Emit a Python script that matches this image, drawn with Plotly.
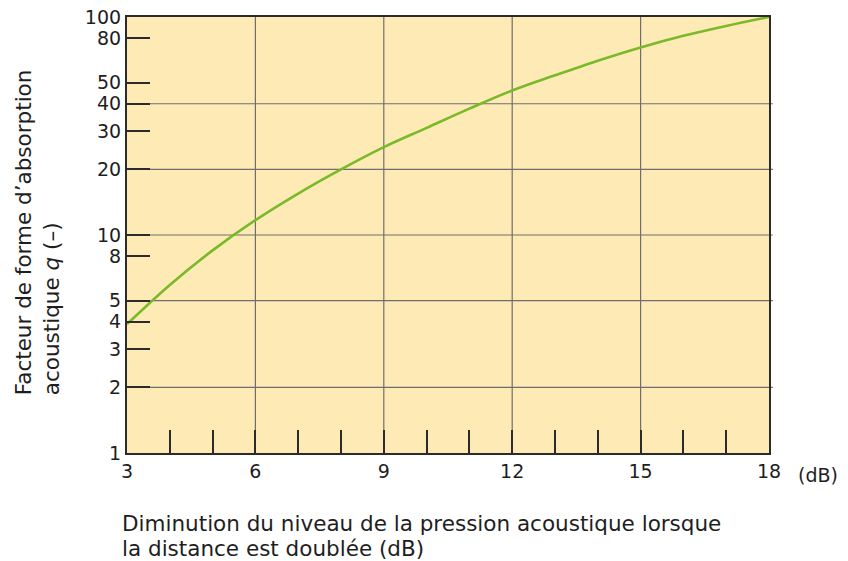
import plotly.graph_objects as go

# Data
x_db = [3, 4, 5, 6, 7, 8, 9, 10, 11, 12, 13, 14, 15, 16, 17, 18]
q_vals = [3.9, 5.9, 8.5, 11.7, 15.5, 20, 25.3, 31, 38, 46, 54, 63, 72.5, 82, 91, 100]

x_ticks = list(range(3, 19))
x_ticklabels = [str(v) if v % 3 == 0 else "" for v in x_ticks]
y_ticks = [1, 2, 3, 4, 5, 8, 10, 20, 30, 40, 50, 80, 100]
y_ticklabels = [str(v) for v in y_ticks]
x_grid = [6, 9, 12, 15]
y_grid = [2, 5, 10, 20, 40]

FONT = "DejaVu Sans"
BG = "#fdeab5"
GRID = "#6e6e6e"
AXIS = "#2b2b2b"
TXT = "#1e1e1e"
TICK_SIZE = 19
TITLE_SIZE = 21.5

fig = go.Figure()
fig.add_trace(go.Scatter(
    x=x_db, y=q_vals, mode="lines",
    line=dict(color="#7ab929", width=2.6, shape="spline", smoothing=1.0),
    hoverinfo="skip", showlegend=False,
))

shapes = []
for gx in x_grid:
    shapes.append(dict(type="line", xref="x", yref="paper", x0=gx, x1=gx, y0=0, y1=1,
                       line=dict(color=GRID, width=1.2), layer="below"))
for gy in y_grid:
    shapes.append(dict(type="line", xref="paper", yref="y", x0=0, x1=1.006, y0=gy, y1=gy,
                       line=dict(color=GRID, width=1.2), layer="below"))

fig.update_layout(
    width=840, height=553,
    margin=dict(l=119, r=79, t=9, b=108, autoexpand=False),
    paper_bgcolor="white", plot_bgcolor=BG,
    font=dict(family=FONT, size=TICK_SIZE, color=TXT),
    shapes=shapes,
    xaxis=dict(
        range=[3, 18], tickmode="array", tickvals=x_ticks, ticktext=x_ticklabels,
        ticks="inside", ticklen=23, tickwidth=1.6, tickcolor=AXIS,
        showgrid=False, zeroline=False, automargin=False, ticklabeloverflow="allow",
        showline=True, linecolor=AXIS, linewidth=2.2, mirror=True,
        tickfont=dict(size=TICK_SIZE, family=FONT, color=TXT),
    ),
    yaxis=dict(
        type="log", range=[0, 2], tickmode="array", tickvals=y_ticks, ticktext=y_ticklabels,
        ticks="inside", ticklen=23, tickwidth=1.6, tickcolor=AXIS,
        showgrid=False, zeroline=False, automargin=False, ticklabeloverflow="allow",
        showline=True, linecolor=AXIS, linewidth=2.2, mirror=True,
        tickfont=dict(size=TICK_SIZE, family=FONT, color=TXT),
    ),
    annotations=[
        dict(text="(dB)", xref="paper", yref="paper", x=1.042, y=0, yshift=-22,
             xanchor="left", yanchor="middle", showarrow=False,
             font=dict(size=TICK_SIZE, family=FONT, color=TXT)),
        dict(text="Diminution du niveau de la pression acoustique lorsque",
             xref="paper", yref="paper", x=0, xshift=-7, y=0, yshift=-70, align="left",
             xanchor="left", yanchor="middle", showarrow=False,
             font=dict(size=TITLE_SIZE, family=FONT, color=TXT)),
        dict(text="la distance est doublée (dB)",
             xref="paper", yref="paper", x=0, xshift=-7, y=0, yshift=-95, align="left",
             xanchor="left", yanchor="middle", showarrow=False,
             font=dict(size=TITLE_SIZE, family=FONT, color=TXT)),
        dict(text="Facteur de forme d’absorption<br>acoustique <i>q</i> (–)",
             xref="paper", yref="paper", x=0, xshift=-90, y=0.128,
             textangle=-90, align="left", xanchor="center", yanchor="bottom",
             showarrow=False, font=dict(size=TITLE_SIZE, family=FONT, color=TXT)),
    ],
)

fig.write_html("out.html")
